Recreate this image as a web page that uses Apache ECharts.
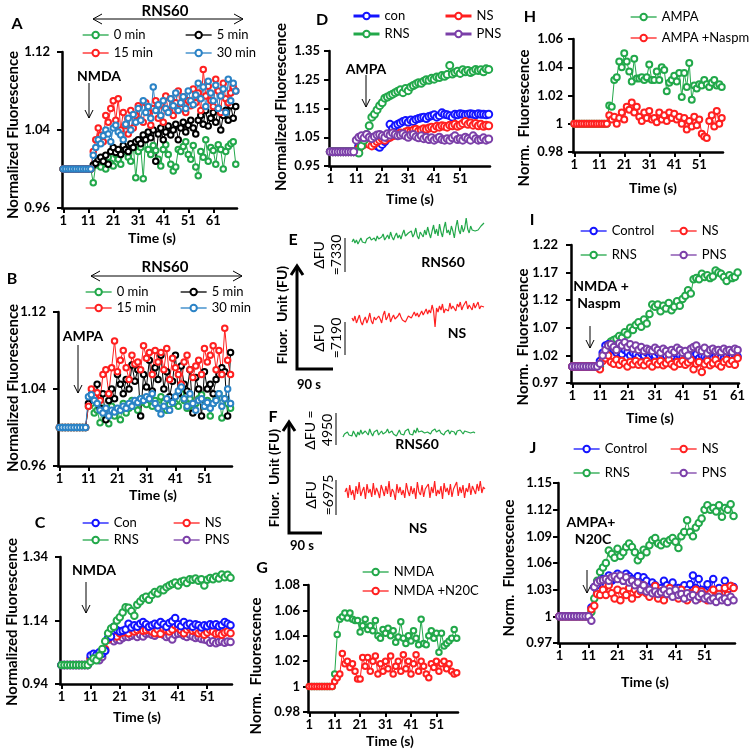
<!DOCTYPE html>
<html><head><meta charset="utf-8">
<script src="https://cdn.jsdelivr.net/npm/echarts@6/dist/echarts.min.js"></script>
<style>html,body{margin:0;padding:0;background:#fff}#c{width:750px;height:752px}</style>
</head><body><div id="c"></div>
<script>
// ---------------- DATA ----------------
// Panel A (NMDA, RNS60 pre-incubation)
const A_xticks = ['1','11','21','31','41','51','61'];
const A_yticks = [0.96, 1.04, 1.12];
const A_0min = [1,1,1,1,1,1,1,1,1,1,1,1,
 0.986,1.004,1.010,1.002,1.008,1.000,1.012,1.006,1.003,1.015,1.010,1.005,1.018,1.020,1.012,1.008,1.025,0.991,1.018,1.022,
 0.990,1.035,1.020,1.015,1.024,1.019,1.010,1.003,1.020,1.025,1.015,1.005,0.998,1.002,1.020,1.018,1.023,1.028,1.015,1.010,
 1.024,1.002,0.993,1.018,1.012,1.030,1.008,1.022,1.019,1.005,1.025,1.020,1.000,1.018,1.023,1.026,1.028,1.005];
const A_5min = [1,1,1,1,1,1,1,1,1,1,1,1,
 1.004,1.006,1.010,1.012,1.008,1.014,1.005,1.018,1.022,1.017,1.020,1.015,1.024,1.020,1.018,1.026,1.022,1.028,1.030,1.026,
 1.035,1.030,1.038,1.032,1.040,1.008,1.036,1.042,1.030,1.038,1.044,1.035,1.040,1.046,1.030,1.042,1.048,1.038,1.045,1.050,
 1.042,1.036,1.050,1.055,1.046,1.060,1.044,1.052,1.058,1.048,1.062,1.040,1.055,1.060,1.050,1.065,1.052,1.064];
const A_15min = [1,1,1,1,1,1,1,1,1,1,1,1,
 1.018,1.030,1.042,1.035,1.028,1.055,1.048,1.062,1.070,1.050,1.072,1.040,1.058,1.045,1.036,1.060,1.042,1.055,1.065,1.050,
 1.048,1.068,1.058,1.045,1.062,1.070,1.052,1.066,1.048,1.075,1.060,1.072,1.055,1.068,1.080,1.062,1.074,1.058,1.070,1.065,
 1.082,1.068,1.078,1.060,1.102,1.075,1.085,1.070,1.064,1.092,1.080,1.058,1.088,1.072,1.068,1.078,1.084,1.080];
const A_30min = [1,1,1,1,1,1,1,1,1,1,1,1,
 1.014,1.022,1.030,1.026,1.034,1.040,1.036,1.028,1.042,1.045,1.038,1.035,1.030,1.046,1.052,1.040,1.056,1.048,1.062,1.050,
 1.070,1.058,1.064,1.052,1.084,1.060,1.066,1.055,1.070,1.062,1.058,1.072,1.065,1.078,1.060,1.068,1.074,1.062,1.080,1.070,
 1.066,1.076,1.088,1.072,1.084,1.064,1.090,1.078,1.070,1.086,1.062,1.075,1.082,1.058,1.092,1.070,1.088,1.080];

// Panel B (AMPA, RNS60 pre-incubation)
const B_xticks = ['1','11','21','31','41','51'];
const B_yticks = [0.96, 1.04, 1.12];
const B_0min = [1,1,1,1,1,1,1,1,1,1,
 1.022,1.025,1.015,1.018,1.005,1.020,1.010,1.004,1.022,1.012,1.018,1.008,1.025,1.015,1.020,1.028,1.022,1.018,1.030,1.026,
 1.024,1.030,1.022,1.028,1.020,1.032,1.026,1.018,1.024,1.030,1.025,1.022,1.035,1.028,1.020,1.030,1.018,1.025,1.030,1.034,
 1.022,1.028,1.012,1.025,1.030,1.035,1.010,1.030,1.025,1.020];
const B_5min = [1,1,1,1,1,1,1,1,1,1,
 1.025,1.034,1.030,1.045,1.020,1.035,1.008,1.028,1.040,1.030,1.055,1.045,1.035,1.050,1.040,1.065,1.048,1.060,1.012,1.055,
 1.042,1.070,1.038,1.062,1.050,1.075,1.040,1.058,1.032,1.048,1.075,1.035,1.064,1.045,1.038,1.060,1.015,1.052,1.040,1.012,
 1.058,1.040,1.045,1.035,1.050,1.055,1.062,1.058,1.012,1.078];
const B_15min = [1,1,1,1,1,1,1,1,1,1,
 1.022,1.040,1.032,1.036,1.028,1.055,1.060,1.035,1.062,1.090,1.058,1.070,1.080,1.062,1.050,1.075,1.066,1.068,1.060,1.085,
 1.072,1.078,1.055,1.080,1.068,1.078,1.060,1.082,1.050,1.072,1.062,1.055,1.045,1.068,1.075,1.060,1.052,1.064,1.070,1.055,
 1.082,1.068,1.075,1.085,1.060,1.080,1.055,1.103,1.070,1.055];
const B_30min = [1,1,1,1,1,1,1,1,1,1,
 1.032,1.034,1.028,1.025,1.018,1.015,1.020,1.012,1.018,1.016,1.020,1.018,1.022,1.020,1.025,1.022,1.028,1.026,1.030,1.028,
 1.032,1.030,1.035,1.025,1.020,1.014,1.022,1.030,1.018,1.026,1.032,1.038,1.042,1.030,1.022,1.035,1.025,1.018,1.028,1.030,
 1.022,1.026,1.020,1.025,1.028,1.035,1.022,1.030,1.040,1.025];

// Panel C (NMDA)
const C_xticks = ['1','11','21','31','41','51'];
const C_yticks = [0.94, 1.14, 1.34];
const C_Con = [1,1,1,1,1,1,1,1,1,1,
 1.030,1.035,1.032,1.040,1.035,1.045,1.085,1.090,1.120,1.110,1.105,1.108,1.112,1.130,1.118,1.125,1.120,1.130,1.135,1.128,
 1.120,1.125,1.130,1.125,1.135,1.128,1.120,1.132,1.138,1.148,1.128,1.122,1.135,1.125,1.130,1.120,1.128,1.125,1.118,1.125,
 1.122,1.128,1.125,1.128,1.122,1.126,1.135,1.130,1.125];
const C_NS = [1,1,1,1,1,1,1,1,1,1,
 1.020,1.025,1.028,1.030,1.040,1.050,1.080,1.095,1.105,1.090,1.100,1.102,1.108,1.100,1.112,1.105,1.110,1.115,1.108,1.110,
 1.115,1.105,1.100,1.112,1.098,1.115,1.110,1.105,1.112,1.125,1.118,1.110,1.100,1.112,1.118,1.108,1.110,1.100,1.105,1.095,
 1.102,1.110,1.105,1.098,1.100,1.095,1.102,1.105,1.100];
const C_RNS = [1,1,1,1,1,1,1,1,1,1,
 1.010,1.020,1.015,1.030,1.050,1.075,1.100,1.115,1.120,1.140,1.150,1.165,1.182,1.180,1.170,1.155,1.190,1.200,1.210,1.215,
 1.205,1.220,1.230,1.225,1.238,1.235,1.245,1.250,1.255,1.260,1.250,1.262,1.265,1.258,1.270,1.268,1.272,1.265,1.270,1.250,
 1.268,1.274,1.270,1.278,1.272,1.285,1.276,1.284,1.275];
const C_PNS = [1,1,1,1,1,1,1,1,1,1,
 1.020,1.018,1.022,1.015,1.025,1.045,1.080,1.082,1.075,1.080,1.078,1.085,1.090,1.088,1.092,1.095,1.088,1.095,1.090,1.098,
 1.100,1.095,1.092,1.098,1.102,1.095,1.088,1.092,1.080,1.095,1.098,1.100,1.092,1.088,1.095,1.090,1.085,1.088,1.082,1.080,
 1.078,1.070,1.075,1.068,1.072,1.075,1.070,1.074,1.072];

// Panel D (AMPA)
const D_xticks = ['1','11','21','31','41','51'];
const D_yticks = [0.95, 1.05, 1.15, 1.25, 1.35];
const D_con = [1,1,1,1,1,1,1,1,1,1,
 1.000,1.020,1.030,1.040,1.045,1.050,1.040,1.030,1.020,1.015,1.025,1.035,1.045,1.095,1.080,1.090,1.095,1.100,1.105,1.108,
 1.102,1.110,1.105,1.112,1.115,1.118,1.120,1.115,1.122,1.125,1.128,1.120,1.125,1.135,1.130,1.128,1.125,1.120,1.130,1.128,
 1.132,1.130,1.128,1.130,1.132,1.130,1.128,1.132,1.130,1.130,1.128,1.130];
const D_NS = [1,1,1,1,1,1,1,1,1,1,
 1.000,1.010,1.020,1.025,1.030,1.025,1.020,1.028,1.035,1.040,1.045,1.040,1.048,1.050,1.055,1.058,1.060,1.065,1.062,1.068,
 1.072,1.070,1.075,1.078,1.072,1.075,1.080,1.078,1.082,1.085,1.080,1.088,1.085,1.090,1.088,1.085,1.092,1.090,1.095,1.088,
 1.092,1.098,1.105,1.095,1.100,1.092,1.098,1.090,1.095,1.088,1.092,1.090];
const D_RNS = [1,1,1,1,1,1,1,1,1,1,
 1.000,0.995,1.020,1.040,1.060,1.090,1.120,1.130,1.145,1.160,1.170,1.186,1.190,1.195,1.200,1.205,1.210,1.215,1.205,1.220,
 1.212,1.225,1.230,1.235,1.240,1.238,1.245,1.250,1.248,1.255,1.252,1.260,1.258,1.265,1.262,1.268,1.300,1.270,1.275,1.280,
 1.272,1.285,1.278,1.282,1.275,1.280,1.286,1.282,1.285,1.278,1.288,1.286];
const D_PNS = [1,1,1,1,1,1,1,1,1,1,
 1.040,1.050,1.055,1.048,1.060,1.050,1.045,1.052,1.058,1.060,1.055,1.050,1.062,1.058,1.065,1.060,1.055,1.058,1.062,1.055,
 1.050,1.058,1.060,1.052,1.048,1.055,1.045,1.050,1.042,1.048,1.040,1.045,1.050,1.042,1.040,1.045,1.040,1.048,1.055,1.042,
 1.045,1.040,1.050,1.045,1.040,1.055,1.045,1.040,1.042,1.048,1.040,1.044];

// Panels E / F (raw fluorescence traces, arbitrary units)
const E_RNS60 = [10,13,9,12,8,11,14,10,12,9,13,11,15,12,10,14,11,16,13,11,15,18,12,14,17,13,20,15,12,16,19,14,17,13,18,22,16,14,19,17,
 21,15,18,24,16,13,20,18,15,22,17,25,19,14,21,27,18,23,16,28,20,15,24,30,19,22,17,26,21,14,25,32,22,18,27,20,24,34,23,19,
 26,22,24,21,23,22,24,26,25,29];
const E_NS = [17,14,19,12,16,20,13,10,15,18,12,16,22,14,11,18,15,13,19,16,12,20,24,15,18,22,13,17,20,16,14,19,22,18,15,17,13,16,19,21,
 17,20,23,19,22,18,21,24,20,23,26,21,25,22,30,24,8,27,23,29,25,31,22,26,28,24,32,26,29,27,24,31,28,33,25,29,27,34,26,30,
 28,25,32,27,30,33,26,29,31,28];
const F_RNS60 = [8,11,9,13,10,12,9,14,11,8,13,10,15,11,9,14,12,10,16,12,9,13,11,15,10,12,14,11,9,13,16,12,10,14,11,13,9,12,15,11,
 13,10,14,12,16,11,13,10,15,12,17,13,11,14,16,12,10,13,15,11,14,12,16,13,11,15,12,14,10,13,12,15,11,14,12,13,10,14,12,15,
 13,11,14,12,13,15,12,14,13,12];
const F_NS = [18,22,12,25,15,20,10,24,16,28,14,19,23,11,26,17,21,13,27,15,22,18,12,25,20,14,24,16,29,13,21,18,10,26,17,23,15,20,12,27,
 19,14,24,16,22,11,28,18,15,25,13,21,19,26,12,23,17,29,14,20,16,24,11,27,18,22,15,26,13,21,19,28,14,23,17,25,12,22,18,27,
 15,24,20,16,26,19,29,17,23,21];

// Panel G (NMDA +/- N20C)
const G_xticks = ['1','11','21','31','41','51'];
const G_yticks = [0.98, 1, 1.02, 1.04, 1.06, 1.08];
const G_NMDA = [1,1,1,1,1,1,1,1,1,1,
 1.010,1.041,1.053,1.055,1.058,1.054,1.058,1.053,1.052,1.052,1.043,1.048,1.053,1.045,1.048,1.044,1.052,1.040,1.038,1.045,
 1.042,1.046,1.040,1.044,1.035,1.039,1.051,1.038,1.034,1.040,1.036,1.044,1.038,1.033,1.053,1.034,1.033,1.040,1.044,1.038,
 1.042,1.027,1.042,1.032,1.034,1.036,1.038,1.045,1.038];
const G_N20C = [1,1,1,1,1,1,1,1,1,1,
 1.004,1.007,1.010,1.026,1.018,1.020,1.015,1.018,1.012,1.006,1.006,1.023,1.016,1.023,1.012,1.020,1.024,1.010,1.018,1.012,
 1.020,1.014,1.024,1.010,1.016,1.020,1.012,1.025,1.014,1.020,1.010,1.018,1.025,1.012,1.020,1.016,1.010,1.007,1.018,1.015,
 1.020,1.012,1.018,1.020,1.014,1.018,1.012,1.010,1.011];

// Panel H (AMPA +/- Naspm)
const H_xticks = ['1','11','21','31','41','51'];
const H_yticks = [0.98, 1, 1.02, 1.04, 1.06];
const H_AMPA = [1,1,1,1,1,1,1,1,1,1,1,1,1,1,
 1.013,1.012,1.031,1.033,1.044,1.040,1.050,1.044,1.037,1.030,1.046,1.032,1.032,1.033,1.031,1.033,1.042,1.031,1.031,1.037,
 1.031,1.040,1.038,1.023,1.029,1.031,1.034,1.030,1.036,1.019,1.036,1.026,1.043,1.017,1.027,1.025,1.028,1.027,1.031,1.028,
 1.026,1.029,1.031,1.027,1.028,1.026];
const H_Naspm = [1,1,1,1,1,1,1,1,1,1,1,1,1,1,
 1.006,1.003,1.005,1.000,1.004,1.008,1.003,1.012,1.010,1.015,1.008,1.012,1.005,1.002,1.008,1.004,1.009,1.003,1.004,1.001,
 1.008,1.003,1.006,1.002,1.008,1.004,1.007,1.003,1.005,1.000,1.004,0.996,1.002,0.998,1.005,0.999,1.003,0.993,0.991,0.990,
 1.002,1.006,0.998,1.009,1.000,1.004];

// Panel I (NMDA + Naspm)
const I_xticks = ['1','11','21','31','41','51','61'];
const I_yticks = [0.97, 1.02, 1.07, 1.12, 1.17, 1.22];
const I_Control = [1,1,1,1,1,1,1,1,1,1,
 1.010,1.025,1.038,1.040,1.035,1.030,1.025,1.028,1.022,1.030,1.026,1.020,1.025,1.022,1.018,1.024,1.020,1.025,1.018,1.022,
 1.020,1.025,1.018,1.015,1.020,1.022,1.018,1.025,1.028,1.020,1.018,1.022,1.025,1.018,1.020,1.022,1.015,1.020,1.018,1.016,
 1.020,1.015,1.018,1.020,1.017,1.015,1.018,1.016,1.020,1.015,1.018];
const I_NS = [1,1,1,1,1,1,1,1,1,1,
 0.995,1.010,1.015,1.020,1.008,1.005,1.012,1.003,1.010,1.006,1.000,1.008,1.004,1.010,1.003,1.007,1.002,1.010,1.005,1.000,
 1.008,1.004,1.010,1.002,1.006,1.012,1.004,1.000,1.008,1.005,1.010,1.003,1.007,1.012,0.995,1.005,1.008,0.990,1.004,1.010,
 1.002,1.006,1.012,1.004,1.000,1.008,1.012,1.005,1.010,1.003,1.015];
const I_RNS = [1,1,1,1,1,1,1,1,1,1,
 1.000,1.015,1.025,1.035,1.045,1.048,1.050,1.055,1.052,1.062,1.058,1.070,1.066,1.075,1.080,1.072,1.085,1.078,1.095,1.112,
 1.108,1.112,1.100,1.110,1.105,1.115,1.102,1.108,1.118,1.110,1.122,1.128,1.138,1.132,1.158,1.160,1.158,1.168,1.162,1.165,
 1.160,1.163,1.174,1.170,1.168,1.162,1.155,1.165,1.160,1.162,1.170];
const I_PNS = [1,1,1,1,1,1,1,1,1,1,
 1.005,1.020,1.030,1.038,1.040,1.035,1.030,1.042,1.038,1.044,1.035,1.040,1.032,1.038,1.030,1.035,1.028,1.032,1.030,1.028,
 1.034,1.030,1.025,1.032,1.028,1.022,1.030,1.026,1.034,1.030,1.025,1.028,1.020,1.032,1.035,1.038,1.030,1.028,1.034,1.024,
 1.030,1.032,1.028,1.030,1.026,1.032,1.028,1.030,1.026,1.032,1.030];

// Panel J (AMPA + N20C)
const J_xticks = ['1','11','21','31','41','51'];
const J_yticks = [0.97, 1, 1.03, 1.06, 1.09, 1.12, 1.15];
const J_Control = [1,1,1,1,1,1,1,1,1,1,1,
 1.010,1.033,1.035,1.040,1.042,1.035,1.046,1.040,1.042,1.048,1.044,1.040,1.048,1.045,1.042,1.038,1.045,1.035,1.044,1.040,
 1.030,1.038,1.035,1.030,1.032,1.040,1.035,1.028,1.038,1.030,1.032,1.025,1.035,1.030,1.036,1.046,1.032,1.042,1.030,1.028,
 1.036,1.025,1.042,1.028,1.032,1.025,1.040,1.030,1.034,1.033];
const J_NS = [1,1,1,1,1,1,1,1,1,1,1,
 1.008,1.012,1.025,1.024,1.030,1.024,1.035,1.026,1.020,1.030,1.018,1.028,1.024,1.032,1.020,1.030,1.025,1.028,1.035,1.026,
 1.022,1.030,1.034,1.020,1.028,1.018,1.026,1.032,1.024,1.028,1.020,1.030,1.024,1.018,1.026,1.022,1.030,1.020,1.028,1.024,
 1.018,1.026,1.030,1.022,1.025,1.020,1.032,1.024,1.034,1.032];
const J_RNS = [1,1,1,1,1,1,1,1,1,1,1,
 1.005,1.020,1.040,1.050,1.055,1.060,1.074,1.070,1.066,1.076,1.068,1.072,1.078,1.082,1.078,1.072,1.063,1.068,1.075,1.072,
 1.080,1.086,1.088,1.082,1.080,1.084,1.082,1.086,1.088,1.084,1.077,1.090,1.095,1.108,1.095,1.090,1.100,1.105,1.110,1.120,
 1.125,1.120,1.122,1.118,1.125,1.112,1.122,1.120,1.126,1.113];
const J_PNS = [1,1,1,1,1,1,1,1,1,1,1,
 0.995,1.033,1.038,1.040,1.041,1.042,1.040,1.044,1.045,1.042,1.046,1.040,1.044,1.038,1.040,1.035,1.038,1.030,1.035,1.028,
 1.030,1.026,1.028,1.025,1.027,1.030,1.025,1.028,1.022,1.030,1.024,1.025,1.020,1.026,1.022,1.024,1.018,1.022,1.025,1.020,
 1.022,1.018,1.020,1.016,1.022,1.018,1.020,1.016,1.022,1.018];

// ---------------- STYLE / BUILD ----------------
const FONT = 'Lato, "Noto Sans", "DejaVu Sans", sans-serif';
const GREEN = '#22a84a', RED = '#ff2020', LBLUE = '#2b83c6', BLUE = '#1414ff', PURPLE = '#7b3fa8', BLACK = '#000000';

const grids = [], xAxes = [], yAxes = [], series = [], legends = [], els = [];

function addPanel(p) {
  const gi = grids.length;
  const [l, t, w, h] = p.rect;
  grids.push({left: l, top: t, width: w, height: h});
  const n = Math.max(...p.series.map(s => s.data.length));
  const cats = Array.from({length: n}, (_, i) => String(i + 1));
  const show = (i, v) => p.xticks.indexOf(v) >= 0;
  xAxes.push({
    type: 'category', gridIndex: gi, data: cats, boundaryGap: true,
    axisLine: {onZero: false, lineStyle: {color: '#000', width: 2.5}},
    axisTick: {show: true, interval: show, alignWithLabel: true, length: 5, lineStyle: {color: '#000', width: 2}},
    axisLabel: {interval: show, color: '#000', fontSize: 13, fontWeight: 'bold', fontFamily: FONT, margin: 6},
    splitLine: {show: false}
  });
  yAxes.push({
    type: 'value', gridIndex: gi, min: p.yticks[0], max: p.yticks[p.yticks.length - 1],
    axisLine: {show: true, onZero: false, lineStyle: {color: '#000', width: 2.5}},
    axisTick: {show: true, customValues: p.yticks, length: 5, lineStyle: {color: '#000', width: 2}},
    axisLabel: {customValues: p.yticks, formatter: v => String(+(+v).toFixed(2)), margin: p.ym,
      color: '#000', fontSize: 13, fontWeight: 'bold', fontFamily: FONT},
    splitLine: {show: false}
  });
  p.series.forEach(s => series.push({
    type: 'line', name: s.name, xAxisIndex: gi, yAxisIndex: gi, data: s.data,
    symbol: 'emptyCircle', symbolSize: p.sym, showAllSymbol: true,
    itemStyle: {color: s.color, borderWidth: 1.2},
    lineStyle: {color: s.color, width: 1},
    emphasis: {disabled: true}, silent: true
  }));
}

function addTrace(rect, data, color, ymax) {
  const gi = grids.length;
  grids.push({left: rect[0], top: rect[1], width: rect[2], height: rect[3]});
  xAxes.push({type: 'category', gridIndex: gi, show: false, boundaryGap: false, data: data.map((_, i) => i)});
  yAxes.push({type: 'value', gridIndex: gi, show: false, min: 0, max: ymax});
  series.push({type: 'line', xAxisIndex: gi, yAxisIndex: gi, data: data, symbol: 'none',
    lineStyle: {color: color, width: 1.2}, silent: true});
}

function addLegend(left, top, gap, names, extra) {
  legends.push(Object.assign({
    orient: 'vertical', left: left, top: top, itemGap: gap + 1, itemWidth: 26, itemHeight: 8, padding: 0,
    data: names, selectedMode: false, lineStyle: {width: 1.3},
    textStyle: {fontSize: 13, color: '#000', fontFamily: FONT}
  }, extra || {}));
}

function txt(x, y, s, size, bold, rot, extra) {
  return Object.assign({
    type: 'text', x: x, y: y, rotation: rot ? Math.PI / 2 : 0,
    style: {text: s, fill: '#000', fontSize: size, fontWeight: bold ? 'bold' : 'normal', fontFamily: FONT,
      align: 'center', verticalAlign: 'middle', lineHeight: size + 3}
  }, extra || {});
}
function pl(points, w, color) {
  return {type: 'polyline', shape: {points: points}, style: {stroke: color || '#000', lineWidth: w || 1, fill: null}};
}
function downArrow(x, y1, y2) {
  els.push(pl([[x, y1], [x, y2]], 1));
  els.push(pl([[x - 4, y2 - 8], [x, y2], [x + 4, y2 - 8]], 1));
}
function dblArrow(x1, x2, y) {
  els.push(pl([[x1, y], [x2, y]], 1));
  els.push(pl([[x1 + 9, y - 5], [x1, y], [x1 + 9, y + 5]], 1));
  els.push(pl([[x2 - 9, y - 5], [x2, y], [x2 - 9, y + 5]], 1));
}
function lAxis(x, top, bottom, right) {
  els.push(pl([[x, top + 2], [x, bottom], [right, bottom]], 3));
  els.push(pl([[x - 6, top + 10], [x, top + 1], [x + 6, top + 10]], 3));
}

// Panels
addPanel({rect: [62, 52, 175, 156], xticks: A_xticks, yticks: A_yticks, ym: 12, sym: 5.5, series: [
  {name: '0 min', data: A_0min, color: GREEN}, {name: '5 min', data: A_5min, color: BLACK},
  {name: '15 min', data: A_15min, color: RED}, {name: '30 min', data: A_30min, color: LBLUE}]});
addPanel({rect: [58, 312, 174, 154], xticks: B_xticks, yticks: B_yticks, ym: 12, sym: 5.5, series: [
  {name: '0 min', data: B_0min, color: GREEN}, {name: '5 min', data: B_5min, color: BLACK},
  {name: '15 min', data: B_15min, color: RED}, {name: '30 min', data: B_30min, color: LBLUE}]});
addPanel({rect: [60, 557, 172, 127], xticks: C_xticks, yticks: C_yticks, ym: 12, sym: 6.5, series: [
  {name: 'PNS', data: C_PNS, color: PURPLE}, {name: 'NS', data: C_NS, color: RED},
  {name: 'Con', data: C_Con, color: BLUE}, {name: 'RNS', data: C_RNS, color: GREEN}]});
addPanel({rect: [329, 51, 161, 115], xticks: D_xticks, yticks: D_yticks, ym: 9, sym: 7, series: [
  {name: 'con', data: D_con, color: BLUE}, {name: 'NS', data: D_NS, color: RED},
  {name: 'RNS', data: D_RNS, color: GREEN}, {name: 'PNS', data: D_PNS, color: PURPLE}]});
addPanel({rect: [308, 585, 150, 127], xticks: G_xticks, yticks: G_yticks, ym: 8, sym: 5.5, series: [
  {name: 'NMDA', data: G_NMDA, color: GREEN}, {name: 'NMDA +N20C', data: G_N20C, color: RED}]});
addPanel({rect: [573, 39, 150, 113], xticks: H_xticks, yticks: H_yticks, ym: 10, sym: 6, series: [
  {name: 'AMPA', data: H_AMPA, color: GREEN}, {name: 'AMPA +Naspm', data: H_Naspm, color: RED}]});
addPanel({rect: [571, 245, 168, 138], xticks: I_xticks, yticks: I_yticks, ym: 13, sym: 6.5, series: [
  {name: 'RNS', data: I_RNS, color: GREEN}, {name: 'Control', data: I_Control, color: BLUE},
  {name: 'NS', data: I_NS, color: RED}, {name: 'PNS', data: I_PNS, color: PURPLE}]});
addPanel({rect: [558, 483, 177, 160], xticks: J_xticks, yticks: J_yticks, ym: 6, sym: 6.5, series: [
  {name: 'RNS', data: J_RNS, color: GREEN}, {name: 'Control', data: J_Control, color: BLUE},
  {name: 'NS', data: J_NS, color: RED}, {name: 'PNS', data: J_PNS, color: PURPLE}]});

// Traces
addTrace([352, 212, 132, 40], E_RNS60, GREEN, 40);
addTrace([352, 295, 132, 40], E_NS, RED, 40);
addTrace([343, 420, 132, 25], F_RNS60, GREEN, 25);
addTrace([345, 475, 140, 35], F_NS, RED, 35);

// Legends
addLegend(82, 28.5, 4, ['0 min', '15 min']);
addLegend(185, 28.5, 4, ['5 min', '30 min']);
addLegend(85, 285.5, 2, ['0 min', '15 min']);
addLegend(180, 285.5, 2, ['5 min', '30 min']);
addLegend(82, 516.5, 3, ['Con', 'RNS']);
addLegend(173, 516.5, 3, ['NS', 'PNS']);
addLegend(352, 9.5, 4, ['con', 'RNS'], {lineStyle: {width: 3}});
addLegend(444, 9.5, 4, ['NS', 'PNS'], {lineStyle: {width: 3}});
addLegend(362, 565.5, 5, ['NMDA', 'NMDA +N20C']);
addLegend(630, 10.5, 7, ['AMPA', 'AMPA +Naspm']);
addLegend(580, 224.5, 10, ['Control', 'RNS']);
addLegend(670, 224.5, 10, ['NS', 'PNS']);
addLegend(573, 442.5, 10, ['Control', 'RNS']);
addLegend(670, 442.5, 10, ['NS', 'PNS']);

// Panel letters
[['A', 17, 24], ['B', 12, 279], ['C', 40, 523], ['D', 322, 20], ['E', 293, 240], ['F', 273, 417],
 ['G', 262, 568], ['H', 530, 17], ['I', 532, 220], ['J', 533, 448]].forEach(a => els.push(txt(a[1], a[2], a[0], 16, true)));

// Axis titles
[[152, 238], [153, 495], [137, 717], [410, 199], [390, 741], [653, 188], [650, 418], [645, 682]]
  .forEach(a => els.push(txt(a[0], a[1], 'Time (s)', 14, true)));
els.push(txt(13, 135, 'Normalized Fluorescence', 15, true, true));
els.push(txt(13, 388, 'Normalized Fluorescence', 15, true, true));
els.push(txt(12, 622, 'Normalized Fluorescence', 15, true, true));
els.push(txt(281, 107, 'Normalized Fluorescence', 15, true, true));
els.push(txt(256, 666, 'Norm.  Fluorescence', 15, true, true));
els.push(txt(524, 118, 'Norm.  Fluorescence', 15, true, true));
els.push(txt(523, 337, 'Norm.  Fluorescence', 15, true, true));
els.push(txt(509, 568, 'Norm.  Fluorescence', 15, true, true));

// RNS60 pre-incubation arrows (A, B)
els.push(txt(165, 11, 'RNS60', 15, true)); dblArrow(93, 243, 19);
els.push(txt(165, 267, 'RNS60', 15, true)); dblArrow(91, 242, 276);

// Agonist annotations
els.push(txt(99, 76, 'NMDA', 14, true)); downArrow(89, 83, 118);
els.push(txt(83, 336, 'AMPA', 14, true)); downArrow(78, 345, 393);
els.push(txt(94, 570, 'NMDA', 14, true)); downArrow(86, 582, 613);
els.push(txt(366, 69, 'AMPA', 14, true)); downArrow(366, 75, 107);
els.push(txt(601, 286, 'NMDA +', 14, true)); els.push(txt(599, 303, 'Naspm', 14, true)); downArrow(590, 326, 348);
els.push(txt(591, 522, 'AMPA+', 14, true)); els.push(txt(593, 539, 'N20C', 14, true)); downArrow(587, 570, 593);

// E / F trace scaffolding
lAxis(297, 265, 369, 333);
lAxis(289, 421, 533, 322);
els.push(txt(282, 315, 'Fluor.  Unit (FU)', 14, true, true));
els.push(txt(274, 478, 'Fluor.  Unit (FU)', 14, true, true));
els.push(txt(309, 385, '90 s', 13, true));
els.push(txt(302, 546, '90 s', 13, true));
els.push(txt(328, 255, 'ΔFU\n=7330', 14, false, true));
els.push(txt(328, 338, 'ΔFU\n=7190', 14, false, true));
els.push(txt(319, 430, 'ΔFU =\n4950', 14, false, true));
els.push(txt(320, 495, 'ΔFU\n=6975', 14, false, true));
els.push(pl([[345, 238], [345, 272]], 1.5, '#555'));
els.push(pl([[345, 322], [345, 355]], 1.5, '#555'));
els.push(pl([[336, 413], [336, 445]], 1.5, '#555'));
els.push(pl([[336, 480], [336, 515]], 1.5, '#555'));
els.push(txt(443, 262, 'RNS60', 14, true));
els.push(txt(457, 333, 'NS', 14, true));
els.push(txt(417, 444, 'RNS60', 14, true));
els.push(txt(418, 528, 'NS', 14, true));

const chart = echarts.init(document.getElementById('c'), null, {renderer: 'canvas'});
chart.setOption({
  backgroundColor: '#fff', animation: false,
  grid: grids, xAxis: xAxes, yAxis: yAxes, series: series, legend: legends,
  graphic: {elements: els}
});
</script>
</body></html>
